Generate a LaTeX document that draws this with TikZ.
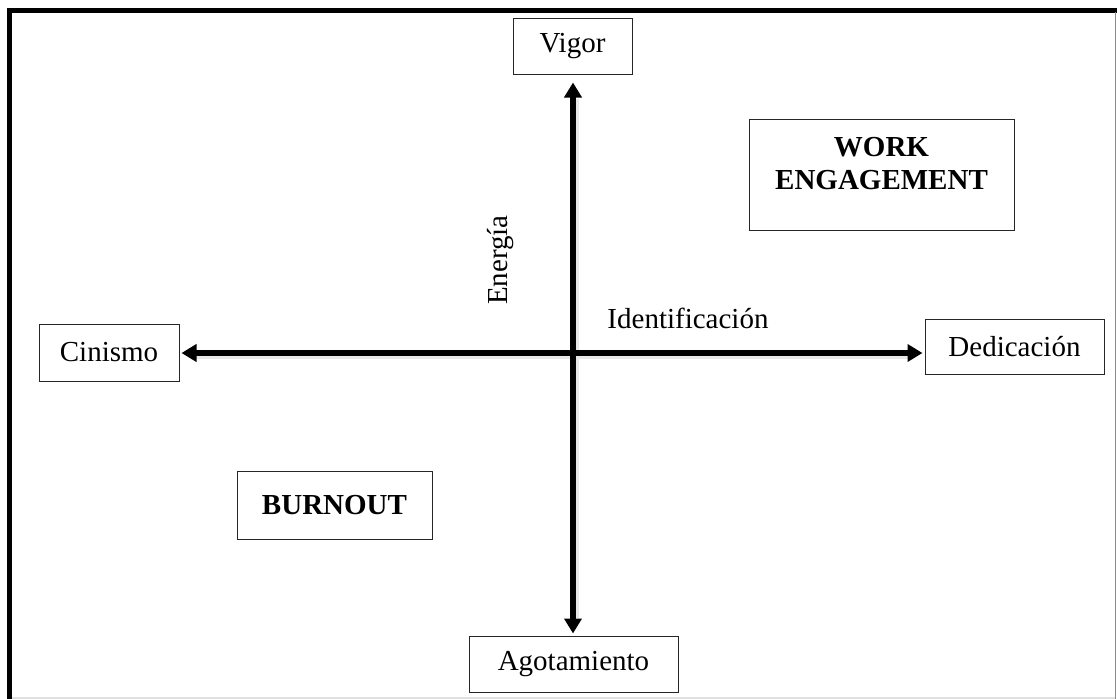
\documentclass[tikz,border=0pt]{standalone}
\usepackage{fontspec}
\setmainfont{Liberation Serif}
\usetikzlibrary{arrows.meta,calc}
\tikzset{
  box/.style={draw=black!85, line width=1pt, inner sep=0pt, align=center,
    font=\fontsize{29}{33}\selectfont},
  lbl/.style={inner sep=0pt, font=\fontsize{29}{33}\selectfont},
  axis/.style={line width=5.5pt, {Triangle[width=17pt,length=15pt]}-{Triangle[width=17pt,length=15pt]}},
  axshadow/.style={line width=9pt, black!9}
}
\begin{document}
\begin{tikzpicture}[x=1pt,y=-1pt]
\useasboundingbox (0,0) rectangle (1117,699);
% frame
\draw[line width=5pt] (9.5,699) -- (9.5,10) -- (1117,10);
\draw[line width=1.2pt, black!45] (1115.8,12) -- (1115.8,699);
\draw[line width=1.2pt, black!12] (12,698) -- (1115,698);
% nodes
\node[box, minimum width=119pt, minimum height=56pt] (vig) at (572.5,46) {Vigor};
\node[box, minimum width=140pt, minimum height=57pt] (cin) at (109,352.5) {Cinismo};
\node[box, minimum width=179pt, minimum height=55pt] (ded) at (1014.5,346.5) {Dedicación};
\node[box, minimum width=209pt, minimum height=56pt] (ago) at (573.5,664) {Agotamiento};
\node[box, minimum width=265pt, minimum height=111pt] (we) at (881.5,174.5) {};
\node[lbl, align=center] (wet) at (881.5,164) {\textbf{WORK}\\\textbf{ENGAGEMENT}};
\node[box, minimum width=195pt, minimum height=68pt] (bo) at (334.5,505) {\textbf{BURNOUT}};
\node[lbl, rotate=90] (ene) at (501,260) {Energía};
\node[lbl] (ide) at (688,318) {Identificación};
% axes
\coordinate (vt) at (vig.south -| 573,0);
\coordinate (vb) at (ago.north -| 573,0);
\coordinate (hl) at (cin.east |- 0,353);
\coordinate (hr) at (ded.west |- 0,353);
\draw[axshadow] ($(vb)+(1.5,-18)$) -- ($(vt)+(1.5,24)$);
\draw[axshadow] ($(hl)+(16,1.5)$) -- ($(hr)+(-16,1.5)$);
\draw[axis, shorten <=2pt, shorten >=8pt] (vb) -- (vt);
\draw[axis, shorten <=2pt, shorten >=2pt] (hl) -- (hr);
\end{tikzpicture}
\end{document}
